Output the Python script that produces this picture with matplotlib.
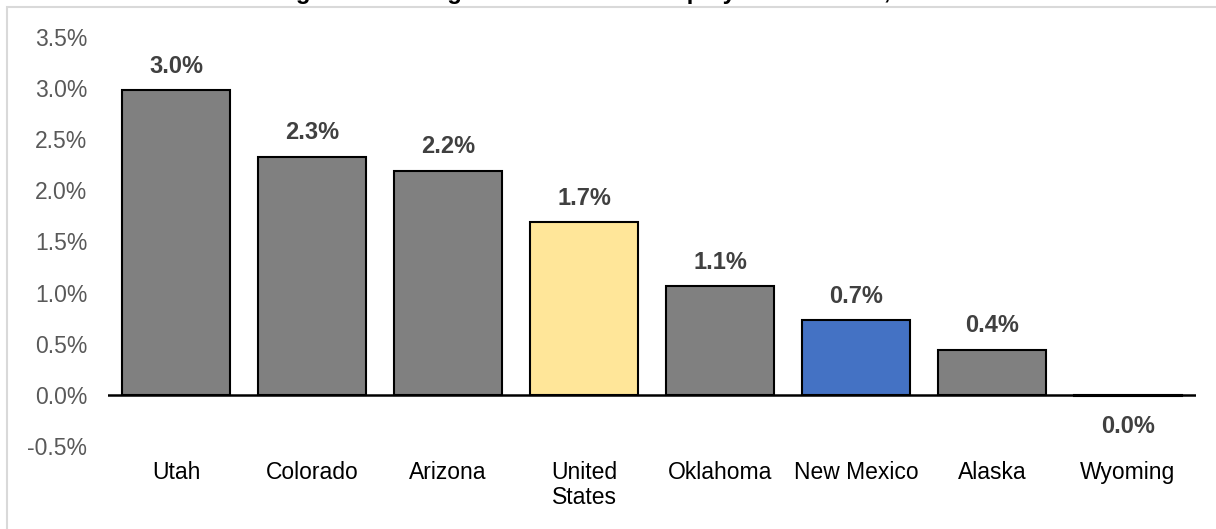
import matplotlib
matplotlib.use("Agg")
import matplotlib.pyplot as plt
from matplotlib.patches import Rectangle
from matplotlib.ticker import FuncFormatter

categories = ["Utah", "Colorado", "Arizona", "United\nStates", "Oklahoma", "New Mexico", "Alaska", "Wyoming"]
values = [2.98, 2.33, 2.19, 1.69, 1.06, 0.73, 0.44, -0.01]
bar_colors = ["#808080", "#808080", "#808080", "#FFE699", "#808080", "#4472C4", "#808080", "#808080"]
yticks = [-0.5, 0.0, 0.5, 1.0, 1.5, 2.0, 2.5, 3.0, 3.5]
title = "Long-Term Average Total Nonfarm Employment Growth, 2014-2024"

plt.rcParams['font.family'] = ['Liberation Sans', 'DejaVu Sans']

W, H = 1216, 529
fig = plt.figure(figsize=(W / 100, H / 100), dpi=100)
ax = fig.add_axes([108 / W, 1 - 446 / H, (1196 - 108) / W, (446 - 37) / H])

x = list(range(len(categories)))
ax.bar(x, values, width=0.8, color=bar_colors, edgecolor="black", linewidth=1.5, zorder=2)
ax.axhline(0, color="black", linewidth=1.8, zorder=3)

ax.set_xlim(-0.5, len(categories) - 0.5)
ax.set_ylim(-0.5, 3.5)
ax.set_yticks(yticks)
ax.yaxis.set_major_formatter(FuncFormatter(lambda v, p: f"{v:.1f}%"))
ax.set_xticks(x)
ax.set_xticklabels(categories, fontsize=16.5, color="black", va="top", linespacing=1.1)
ax.tick_params(axis="x", length=0, pad=11)
ax.tick_params(axis="y", length=0, pad=15, labelsize=16.5, labelcolor="#595959")
for s in ax.spines.values():
    s.set_visible(False)

for xi, v in zip(x, values):
    if v >= 0:
        ax.annotate(f"{v:.1f}%", (xi, v), xytext=(0, 9), textcoords="offset points",
                    ha="center", va="bottom", fontsize=17, fontweight="bold", color="#404040")
    else:
        ax.annotate(f"{abs(v):.1f}%", (xi, v), xytext=(0, -14), textcoords="offset points",
                    ha="center", va="top", fontsize=17, fontweight="bold", color="#404040")

# outer chart border (partially cropped in the reference)
fig.patches.append(Rectangle((7 / W, -0.1), 1.2, 1 - 7 / H + 0.1, transform=fig.transFigure,
                             fill=False, edgecolor="#D9D9D9", linewidth=1.5))

# title is cropped at the top of the image
fig.text(252 / W, 1.0 + 0.5 / H, title, ha="left", va="baseline", fontsize=17.3,
         fontweight="bold", color="black")

fig.savefig("out.png", dpi=100)
